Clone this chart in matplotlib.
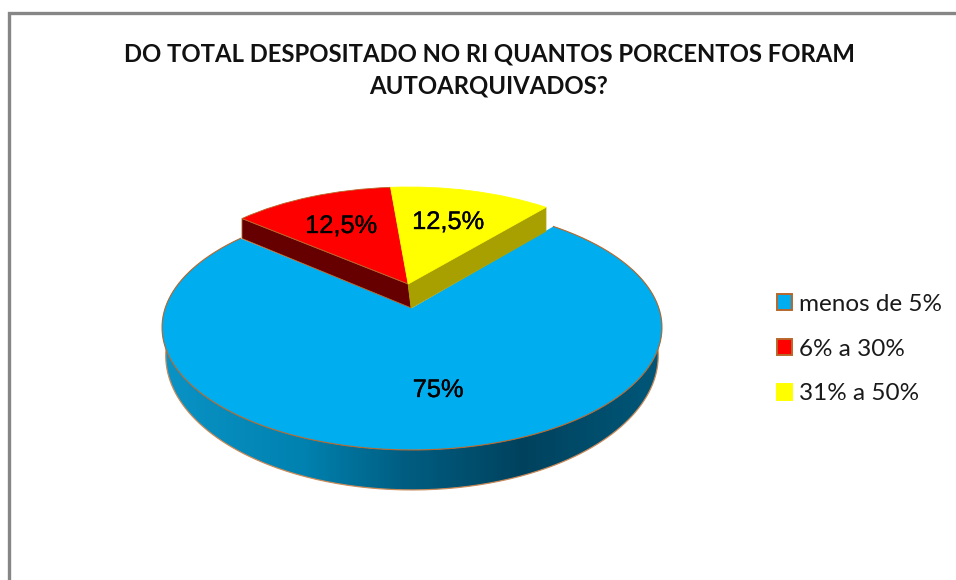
import numpy as np
import matplotlib
matplotlib.use("Agg")
import matplotlib.pyplot as plt
import matplotlib.patheffects as pe
from matplotlib.colors import LinearSegmentedColormap
from matplotlib.patches import Patch, Polygon
from matplotlib.transforms import Transform

# --- data ---
categories = ["menos de 5%", "6% a 30%", "31% a 50%"]
values = [75, 12.5, 12.5]
value_labels = ["75%", "12,5%", "12,5%"]
title_text = "DO TOTAL DESPOSITADO NO RI QUANTOS PORCENTOS FORAM\nAUTOARQUIVADOS?"

# --- styles ---
face_colors = ["#00AEEF", "#FF0000", "#FFFF00"]
side_colors = [None, "#660000", "#A8A000"]
side_tip_depth = [None, 20, 24]
edge_brown = "#B8672B"
gradient_stops = ["#0A93C6", "#0082B0", "#005E82", "#00425E", "#00587A"]

# --- perspective geometry of the tilted pie ---
CX, CY = 412, 308
SX, SY, TILT = 246.8, 119.4, 0.159
EXPLODE = (-0.016, 0.208)
START_ANGLE = 50


def project(uv):
    uv = np.atleast_2d(uv)
    w = 1 + TILT * uv[:, 1]
    return np.column_stack((CX + SX * uv[:, 0] / w, CY - SY * uv[:, 1] / w))


def lower(xy):
    """Map a point of the top face to the bottom face (extrusion)."""
    return np.column_stack((CX + (xy[:, 0] - CX) * 0.985,
                            xy[:, 1] + 24 + (xy[:, 1] - 284) * 0.096))


class Perspective(Transform):
    input_dims = output_dims = 2
    is_affine = False
    has_inverse = False

    def transform_non_affine(self, values):
        return project(values)


fig = plt.figure(figsize=(9.56, 5.8), dpi=100, facecolor="white")
ax = fig.add_axes([0, 0, 1, 1])

# top faces, from the library's pie layout
blue_wedges, _ = ax.pie(values, startangle=START_ANGLE, counterclock=False,
                        colors=face_colors, radius=1, center=(0, 0))
cut_wedges, _ = ax.pie(values, startangle=START_ANGLE, counterclock=False,
                       colors=face_colors, radius=1, center=EXPLODE)
persp = Perspective() + ax.transData
for i, w in enumerate(blue_wedges):
    w.set_transform(persp)
    w.set_zorder(3)
    w.set_edgecolor("none")
    w.set_visible(i == 0)
for i, w in enumerate(cut_wedges):
    w.set_transform(persp)
    w.set_zorder(6)
    w.set_edgecolor(edge_brown if i == 1 else face_colors[i])
    w.set_linewidth(0.6)
    w.set_visible(i != 0)

# brown rim of the big slice
b = blue_wedges[0]
a0, a1 = min(b.theta1, b.theta2), max(b.theta1, b.theta2)
phi = np.radians(np.linspace(a0, a1, 400))
rim_top = project(np.column_stack((np.cos(phi), np.sin(phi))))
ax.plot(rim_top[:, 0], rim_top[:, 1], color=edge_brown, lw=0.8, zorder=3.5)

# side wall of the big slice, with its gradient
ax.set_aspect("auto")
theta = np.radians(np.linspace(-20, 200, 400))
rim = project(np.column_stack((np.cos(theta), -np.sin(theta))))
rim_low = lower(rim)
wall = Polygon(np.vstack((rim, rim_low[::-1])), closed=True, transform=ax.transData,
               facecolor="none", edgecolor="none")
ax.add_patch(wall)
cmap = LinearSegmentedColormap.from_list("wall", list(zip([0, 0.28, 0.48, 0.72, 1], gradient_stops)))
img = ax.imshow(np.linspace(0, 1, 256)[None, :], cmap=cmap, aspect="auto",
                extent=(162, 664, 500, 200), zorder=2)
img.set_clip_path(wall)
inner = (rim_low[:, 1] > 330)
ax.plot(rim_low[inner, 0], rim_low[inner, 1], color="#C98A5A", lw=0.9, zorder=2.5)

# straight side walls of the two pulled-out slices
apex = np.array(EXPLODE)
for i, w in enumerate(cut_wedges):
    if i == 0:
        continue
    ang = np.radians(max(w.theta1, w.theta2) if i == 1 else min(w.theta1, w.theta2))
    tip = apex + np.array([np.cos(ang), np.sin(ang)])
    top = project(np.vstack((apex, tip)))
    bot = top + np.array([[3, 24], [0, side_tip_depth[i]]])
    ax.add_patch(Polygon(np.vstack((top, bot[::-1])), closed=True, facecolor=side_colors[i],
                         edgecolor=edge_brown if i == 1 else side_colors[i], lw=0.6, zorder=5))

# value labels
label_pos = [(438, 390), (341, 226), (448, 222)]
for (lx, ly), txt in zip(label_pos, value_labels):
    ax.text(lx, ly, txt, ha="center", va="center", fontsize=18.3, color="black",
            family="Liberation Sans", zorder=8,
            path_effects=[pe.withStroke(linewidth=0.25, foreground="black")])

# chart frame, open to the right and at the bottom
ax.plot([9.5, 9.5, 956], [580, 13, 13], color="#868686", lw=2.4, zorder=1,
        solid_joinstyle="miter")

# title
ax.text(489, 70, title_text, ha="center", va="center", fontsize=17.2, fontweight="bold",
        family="Lato", linespacing=1.52, color="#111111", zorder=8)

# legend
handles = [Patch(facecolor=face_colors[0], edgecolor=edge_brown, lw=1.4),
           Patch(facecolor=face_colors[1], edgecolor=edge_brown, lw=1.4),
           Patch(facecolor=face_colors[2], edgecolor=face_colors[2], lw=1.4)]
leg = ax.legend(handles, categories, loc="center left", bbox_to_anchor=(777 / 956, 1 - 349 / 580),
                bbox_transform=fig.transFigure, frameon=False,
                prop={"family": "Lato", "size": 17.5},
                handlelength=0.62, handleheight=0.62, handletextpad=0.3, labelspacing=0.98,
                borderpad=0, borderaxespad=0)
for t in leg.get_texts():
    t.set_color("#1a1a1a")

ax.set_xlim(0, 956)
ax.set_ylim(580, 0)
ax.set_xticks([])
ax.set_yticks([])
ax.set_frame_on(False)
fig.savefig("out.png", dpi=100, facecolor="white")
